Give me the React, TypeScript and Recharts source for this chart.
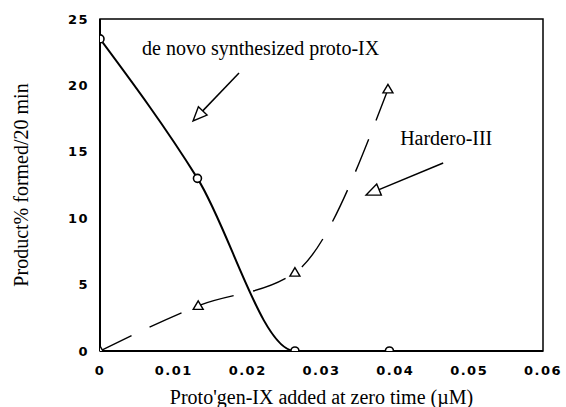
import React from 'react';
import {
  LineChart,
  Line,
  XAxis,
  YAxis,
  ReferenceArea,
  ReferenceLine,
  ReferenceDot,
} from 'recharts';

// de novo synthesized proto-IX (circles, solid)
const denovoX = [0, 0.0132, 0.0264, 0.0392];
const denovoY = [23.5, 13, 0, 0];

// Hardero-III (triangles, dashed)
const harderoX = [0, 0.0133, 0.0264, 0.039];
const harderoY = [0, 3.4, 5.9, 19.7];

const xTicks = [0, 0.01, 0.02, 0.03, 0.04, 0.05, 0.06];
const yTicks = [0, 5, 10, 15, 20, 25];

const denovoData = denovoX.map((x, i) => ({ x, y: denovoY[i] }));
const harderoData = harderoX.map((x, i) => ({ x, y: harderoY[i] }));

const serif = '"Liberation Serif", "Times New Roman", serif';
const tickStyle = {
  fontFamily: '"DejaVu Sans", sans-serif',
  fontWeight: 'bold' as const,
  fontSize: 13,
  fill: '#000',
  letterSpacing: 1.5,
};

const fmtX = (v: number) => (v === 0 ? '0' : v.toFixed(2));

function CircleDot(props: any) {
  const { cx, cy, index } = props;
  return <circle key={`c-${index}`} cx={cx} cy={cy} r={4} fill="#fff" stroke="#000" strokeWidth={1.6} />;
}

function TriangleDot(props: any) {
  const { cx, cy, index } = props;
  const d = `M${cx},${cy - 5} L${cx - 5},${cy + 3.5} L${cx + 5},${cy + 3.5} Z`;
  return <path key={`t-${index}`} d={d} fill="#fff" stroke="#000" strokeWidth={1.4} />;
}

// tail is the segment's first point, tip the second
function Arrow(props: any) {
  const { x1, y1, x2, y2 } = props;
  const dx = x2 - x1;
  const dy = y2 - y1;
  const len = Math.hypot(dx, dy) || 1;
  const ux = dx / len;
  const uy = dy / len;
  const L = 14;
  const W = 6;
  const bx = x2 - ux * L;
  const by = y2 - uy * L;
  const pts = `${x2},${y2} ${bx - uy * W},${by + ux * W} ${bx + uy * W},${by - ux * W}`;
  return (
    <g>
      <line x1={x1} y1={y1} x2={bx} y2={by} stroke="#000" strokeWidth={1.5} />
      <polygon points={pts} fill="#fff" stroke="#000" strokeWidth={1.4} />
    </g>
  );
}

const annotation = (text: string) => (props: any) => (
  <text x={props.cx} y={props.cy} fontFamily={serif} fontSize={20} fill="#000">
    {text}
  </text>
);

export default function App() {
  return (
    <div style={{ position: 'absolute', left: 0, top: 0, width: 566, height: 407, background: '#fff' }}>
      <LineChart width={566} height={407} margin={{ top: 19, right: 23, bottom: 0, left: 0 }}>
        <XAxis
          type="number"
          dataKey="x"
          domain={[0, 0.06]}
          ticks={xTicks}
          tickFormatter={fmtX}
          tick={tickStyle}
          tickLine={false}
          tickSize={0}
          tickMargin={15}
          axisLine={{ stroke: '#000', strokeWidth: 2 }}
          height={56}
          allowDataOverflow
          label={{
            value: "Proto'gen-IX added at zero time (\u00b5M)",
            position: 'insideBottom',
            offset: 3,
            style: { fontFamily: serif, fontSize: 20, fill: '#000' },
          }}
        />
        <YAxis
          type="number"
          dataKey="y"
          domain={[0, 25]}
          ticks={yTicks}
          tick={tickStyle}
          tickLine={false}
          tickSize={0}
          tickMargin={11}
          axisLine={{ stroke: '#000', strokeWidth: 2 }}
          width={100}
          allowDataOverflow
          label={{
            value: 'Product% formed/20 min',
            angle: -90,
            position: 'insideLeft',
            offset: 21,
            style: { fontFamily: serif, fontSize: 20, fill: '#000', textAnchor: 'middle' },
          }}
        />
        <ReferenceArea x1={0} x2={0.06} y1={0} y2={25} fill="none" stroke="#000" strokeWidth={1.5} />
        <Line
          data={harderoData}
          dataKey="y"
          type="monotone"
          stroke="#000"
          strokeWidth={1.4}
          strokeDasharray="35 20"
          dot={TriangleDot}
          activeDot={false}
          isAnimationActive={false}
        />
        <Line
          data={denovoData}
          dataKey="y"
          type="monotone"
          stroke="#000"
          strokeWidth={2}
          dot={CircleDot}
          activeDot={false}
          isAnimationActive={false}
        />
        <ReferenceLine
          segment={[
            { x: 0.01883, y: 20.93 },
            { x: 0.0126, y: 17.32 },
          ]}
          shape={Arrow}
        />
        <ReferenceLine
          segment={[
            { x: 0.04648, y: 14.16 },
            { x: 0.03604, y: 11.75 },
          ]}
          shape={Arrow}
        />
        <ReferenceDot x={0.00569} y={22.29} r={0} shape={annotation('de novo synthesized proto-IX')} />
        <ReferenceDot x={0.04065} y={15.51} r={0} shape={annotation('Hardero-III')} />
      </LineChart>
    </div>
  );
}
